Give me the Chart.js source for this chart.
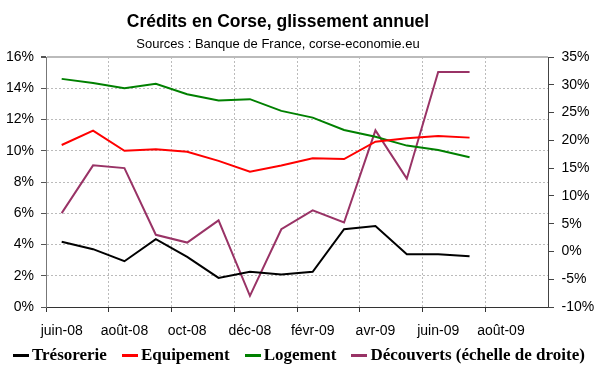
<!DOCTYPE html>
<html>
<head>
<meta charset="utf-8">
<script src="https://cdn.jsdelivr.net/npm/chart.js@4"></script>
<style>
  body { margin: 0; background: #fff; }
  #wrap { position: relative; width: 600px; height: 372px; }
  .head { position: absolute; left: 0; width: 556px; text-align: center; color: #000; font-family: 'Liberation Sans', Arial, sans-serif; white-space: nowrap; }
  #title { top: 10.5px; font-size: 17.5px; font-weight: bold; line-height: 20px; }
  #subtitle { top: 36.3px; font-size: 13px; line-height: 15px; }
  #legend { position: absolute; left: 13px; top: 345px; display: flex; align-items: center; gap: 15px; white-space: nowrap;
    font-family: 'Liberation Serif', 'Times New Roman', serif; font-weight: bold; font-size: 17px; line-height: 20px; color: #000; }
  #legend .item { display: flex; align-items: center; }
  #legend .mark { width: 16px; height: 3px; margin-right: 3px; }
</style>
</head>
<body>
<div id="wrap">
  <canvas id="chart" width="600" height="372"></canvas>
  <div class="head" id="title">Crédits en Corse, glissement annuel</div>
  <div class="head" id="subtitle">Sources : Banque de France, corse-economie.eu</div>
  <div id="legend"></div>
</div>
<script>
// mois (un sur deux affiché)
const months = ['juin-08', 'juil-08', 'août-08', 'sept-08', 'oct-08', 'nov-08', 'déc-08', 'janv-09',
  'févr-09', 'mars-09', 'avr-09', 'mai-09', 'juin-09', 'juil-09', 'août-09', 'sept-09'];

// glissement annuel en %
const tresorerie = [4.17, 3.7, 2.93, 4.34, 3.21, 1.86, 2.25, 2.08, 2.25, 4.98, 5.18, 3.38, 3.38, 3.25];
const equipement = [10.37, 11.29, 10.0, 10.1, 9.94, 9.35, 8.66, 9.05, 9.52, 9.47, 10.58, 10.8, 10.95, 10.84];
const logement = [14.6, 14.33, 14.0, 14.28, 13.62, 13.21, 13.3, 12.55, 12.12, 11.33, 10.9, 10.33, 10.05, 9.58];
const decouverts = [6.9, 15.5, 15.0, 3.0, 1.6, 5.6, -8.0, 4.0, 7.4, 5.2, 21.8, 13.1, 32.3, 32.3];

const leftTicks = { min: 0, max: 16, step: 2 };
const rightTicks = { min: -10, max: 35, step: 5 };

const sans = 'Liberation Sans, Arial, sans-serif';

function line(label, data, color, axis) {
  return {
    label: label,
    data: data,
    yAxisID: axis,
    borderColor: color,
    backgroundColor: color,
    borderWidth: 2,
    pointRadius: 0,
    tension: 0
  };
}

const ctx = document.getElementById('chart').getContext('2d');

const chart = new Chart(ctx, {
  type: 'line',
  data: {
    labels: months,
    datasets: [
      line('Trésorerie', tresorerie, '#000000', 'y'),
      line('Equipement', equipement, '#ff0000', 'y'),
      line('Logement', logement, '#008000', 'y'),
      line('Découverts (échelle de droite)', decouverts, '#993366', 'y1')
    ]
  },
  options: {
    responsive: false,
    animation: false,
    layout: { padding: { top: 57, left: 0, right: 0, bottom: 25 } },
    plugins: {
      tooltip: { enabled: false },
      legend: { display: false }
    },
    scales: {
      x: {
        offset: true,
        grid: {
          offset: true,
          color: function (c) {
            return (c.index > 0 && c.index < months.length && c.index % 2 === 0) ? '#bbbbbb' : 'rgba(0,0,0,0)';
          },
          tickColor: function (c) {
            return c.index % 2 === 0 ? '#333' : 'rgba(0,0,0,0)';
          },
          tickLength: 5
        },
        border: { color: '#333', dash: [2, 2] },
        ticks: {
          autoSkip: false,
          maxRotation: 0,
          color: '#000',
          padding: 11,
          font: { family: sans, size: 14 },
          callback: function (v, i) { return i % 2 === 0 ? months[i] : ''; }
        },
        afterFit: function (s) { s.height = 40; }
      },
      y: {
        position: 'left',
        min: leftTicks.min,
        max: leftTicks.max,
        grid: {
          color: function (c) {
            if (!c.tick || c.tick.value === leftTicks.min) return 'rgba(0,0,0,0)';
            return '#bbbbbb';
          },
          lineWidth: function (c) { return c.tick && c.tick.value === leftTicks.max ? 2 : 1; },
          tickColor: '#555',
          tickLength: 5
        },
        border: {
          color: '#777',
          dash: function (c) { return c.tick && c.tick.value !== leftTicks.max ? [2, 2] : []; }
        },
        ticks: {
          stepSize: leftTicks.step,
          color: '#000',
          padding: 7,
          font: { family: sans, size: 14 },
          callback: function (v) { return v + '%'; }
        },
        afterFit: function (s) { s.width = 46; }
      },
      y1: {
        position: 'right',
        min: rightTicks.min,
        max: rightTicks.max,
        grid: {
          drawOnChartArea: false,
          tickColor: '#444',
          tickLength: 6
        },
        border: { color: '#444' },
        ticks: {
          stepSize: rightTicks.step,
          color: '#000',
          padding: 7.5,
          font: { family: sans, size: 14 },
          callback: function (v) { return v + '%'; }
        },
        afterFit: function (s) { s.width = 52; }
      }
    }
  }
});

// légende HTML
const legend = document.getElementById('legend');
chart.data.datasets.forEach(function (ds) {
  const item = document.createElement('div');
  item.className = 'item';
  item.innerHTML = '<span class="mark" style="background:' + ds.borderColor + '"></span><span>' + ds.label + '</span>';
  legend.appendChild(item);
});
</script>
</body>
</html>
